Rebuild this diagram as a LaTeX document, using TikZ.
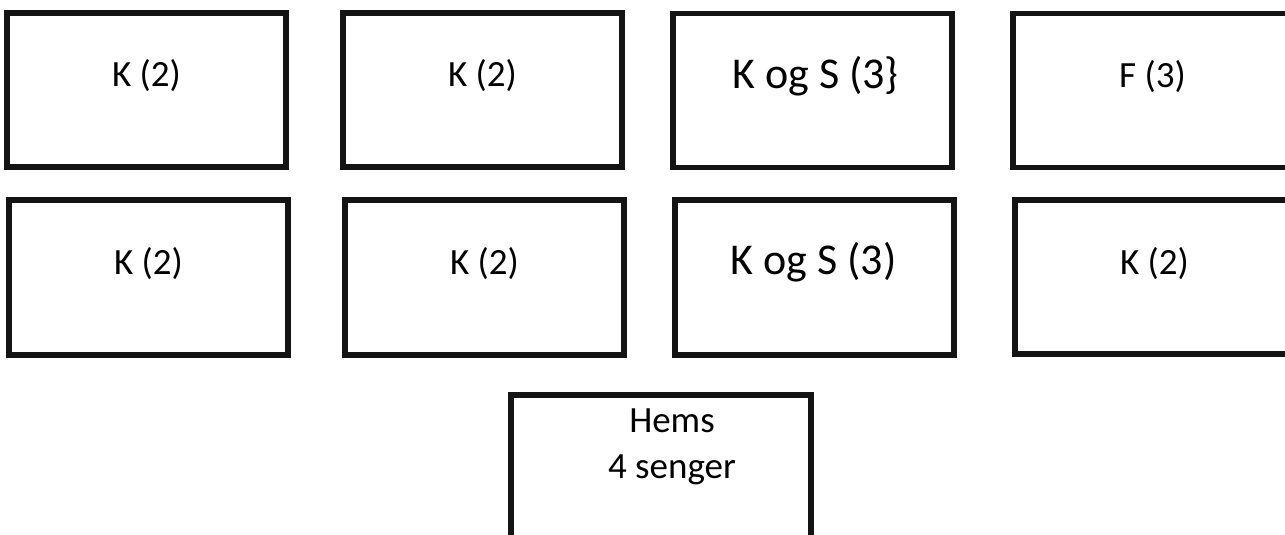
\documentclass[tikz,border=0pt]{standalone}
\usepackage{fontspec}
\setmainfont{Carlito}
\usetikzlibrary{calc}
\tikzset{
  room/.style={draw=black!92, line width=5.5pt, minimum width=279pt, minimum height=154pt, inner sep=0pt, outer sep=0pt},
  lbl/.style={font=\fontsize{37}{46}\selectfont, inner sep=0pt, anchor=base},
  biglbl/.style={font=\fontsize{44}{50}\selectfont, inner sep=0pt, anchor=base},
}
\begin{document}
\begin{tikzpicture}[x=1pt,y=-1pt]
\clip (0,0) rectangle (1285,535);
\fill[white] (0,0) rectangle (1285,535);
% row 1
\node[room] (b1) at (146.5,90) {};
\node[room] (b2) at (482.5,90) {};
\node[room] (b3) at (812.5,90.5) {};
\node[room] (b4) at (1152.5,90.5) {};
% row 2
\node[room, minimum height=155pt] (b5) at (148.5,277.5) {};
\node[room, minimum height=155pt] (b6) at (484.5,277.5) {};
\node[room, minimum height=155pt] (b7) at (814.5,277.5) {};
\node[room, minimum height=154pt] (b8) at (1154.5,277) {};
% bottom
\node[room, minimum width=300pt, minimum height=200pt] (b9) at (661,495) {};
% labels
\node[lbl] (t1) at ($(b1.north)+(0,74)$) {K (2)};
\node[lbl] (t2) at ($(b2.north)+(0,74)$) {K (2)};
\node[biglbl] (t3) at ($(b3.north)+(3,75)$) {K og S (3\}};
\node[lbl] (t4) at ($(b4.north)+(0,74.5)$) {F (3)};
\node[lbl] (t5) at ($(b5.north)+(0,74)$) {K (2)};
\node[lbl] (t6) at ($(b6.north)+(0,74)$) {K (2)};
\node[biglbl] (t7) at ($(b7.north)+(-1,74)$) {K og S (3)};
\node[lbl] (t8) at ($(b8.north)+(0,74.5)$) {K (2)};
\node[lbl] (t9) at ($(b9.north)+(11,37)$) {Hems};
\node[lbl] (t10) at ($(t9.base)+(0,46)$) {4 senger};
\end{tikzpicture}
\end{document}
